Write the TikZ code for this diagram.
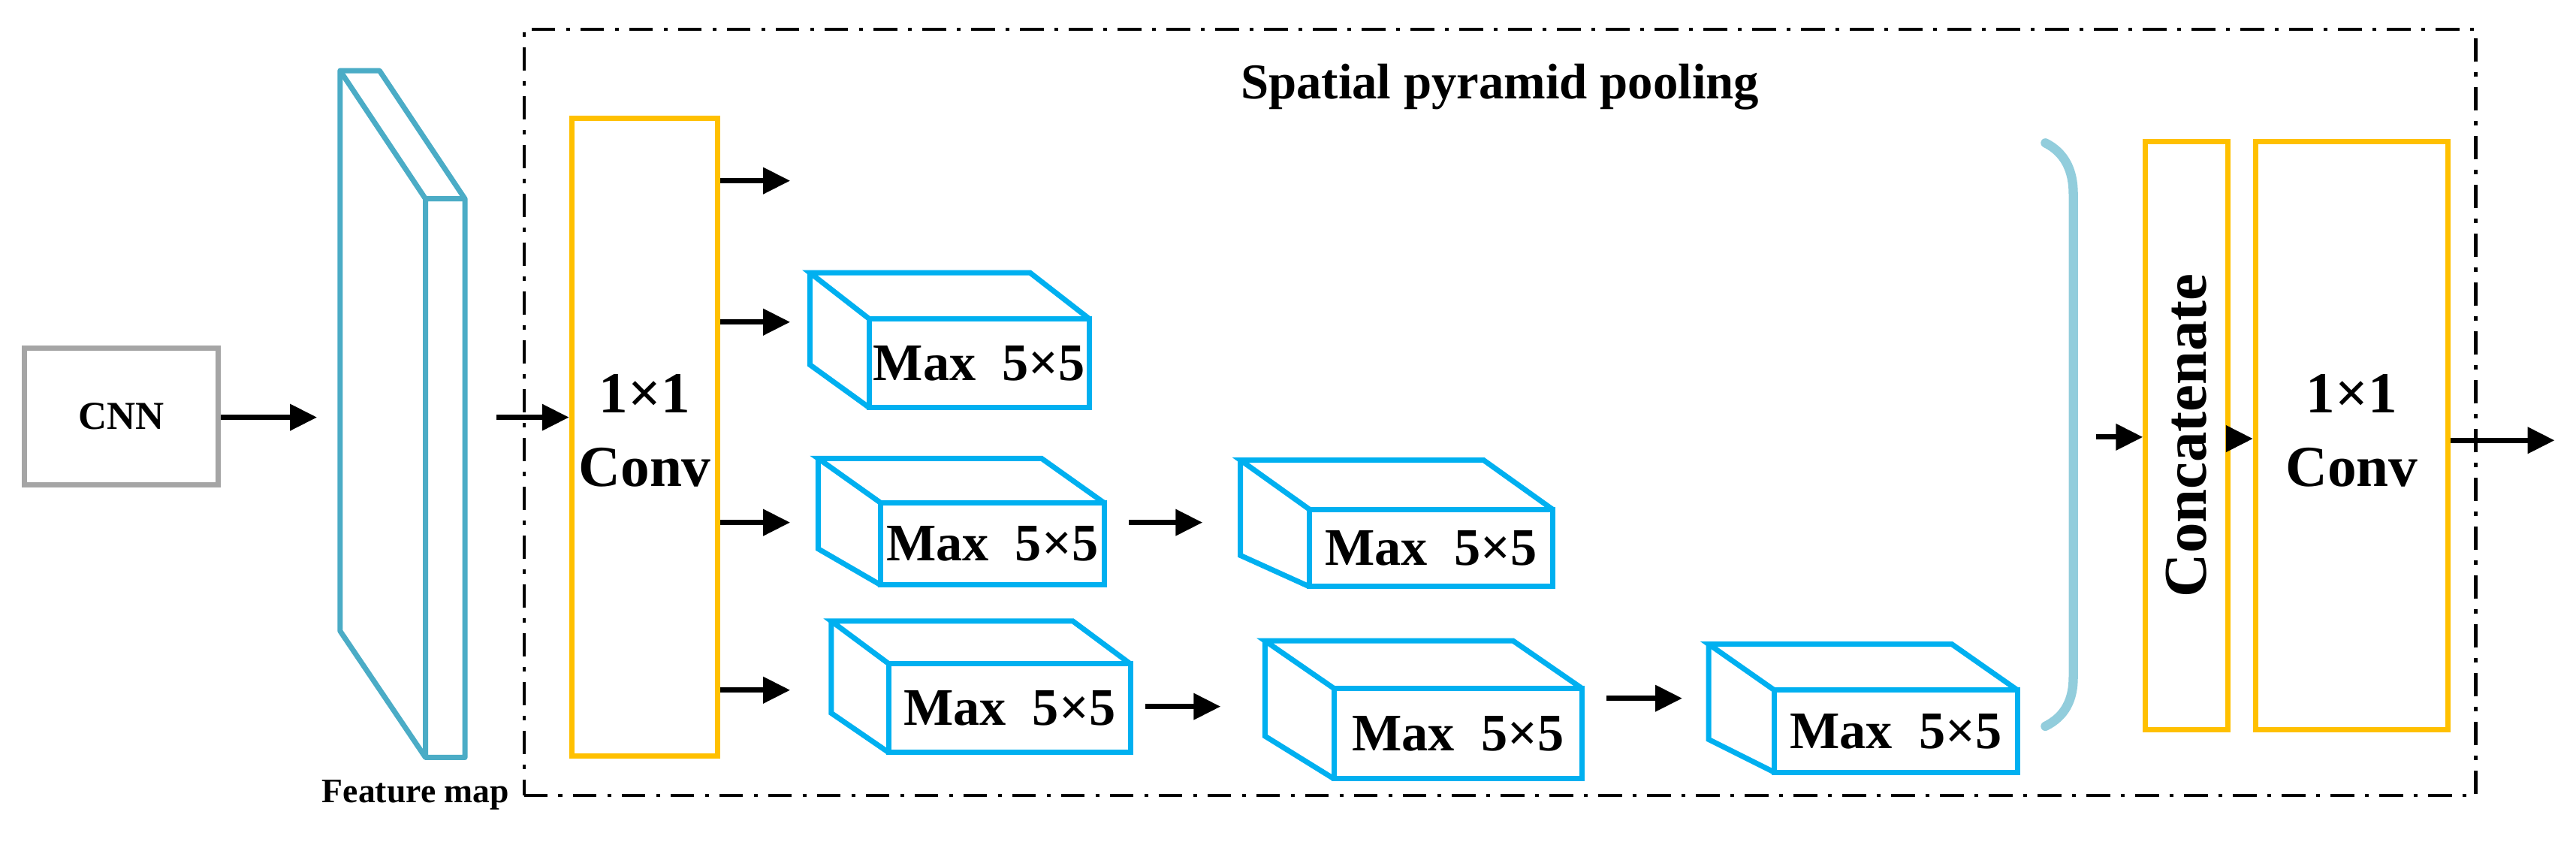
\documentclass[tikz,border=0pt]{standalone}
\usepackage{fontspec}
\setmainfont{Liberation Serif}
\usetikzlibrary{arrows.meta,fit}
\definecolor{cub}{RGB}{0,176,240}
\definecolor{fmc}{RGB}{75,172,198}
\definecolor{yel}{RGB}{255,192,0}
\definecolor{gr}{RGB}{165,165,165}
\definecolor{brk}{RGB}{146,205,220}
\tikzset{
  arr/.style={line width=2pt,-{Triangle[length=0.36cm,width=0.34cm]}},
  box/.style={draw,line width=2pt,inner sep=0pt},
  lbl/.style={font=\bfseries\fontsize{20}{24}\selectfont},
}
\newcommand\cuboid[8]{%
  \node[box,cub,fit={(#4,#5)(#6,#7)}] (#1) {};
  \node[lbl,text=black] at (#1.center) {Max~~5×5};
  \pgfmathsetmacro\bx{#6-(#4-#2)}
  \draw[cub,line width=2pt,line join=miter] (#4,#5) -- (#2,#3) -- (\bx,#3) -- (#6,#5);
  \draw[cub,line width=2pt] (#2,#3) -- (#2,#8) -- (#4,#7);
}
\begin{document}
\begin{tikzpicture}[x=0.021875cm,y=-0.021875cm]
\useasboundingbox (0,0) rectangle (1568,512);
% dashed frame
\node[draw,line width=1.2pt,dash pattern=on 9pt off 4pt on 1.5pt off 4pt,inner sep=0pt,fit={(319,18)(1507,484)}] (spp) {};
\node[font=\bfseries\fontsize{19}{22}\selectfont] (title) at (913,53) {Spatial pyramid pooling};
% CNN
\node[box,gr,fit={(15,212)(133,295)}] (cnn) {};
\node[font=\bfseries\fontsize{15}{18}\selectfont] at (cnn.center) {CNN};
% feature map
\draw[fmc,line width=2pt,line join=round] (207,43) -- (231,43) -- (283,121) -- (283,461) -- (259,461) -- (207,384) -- cycle;
\draw[fmc,line width=2pt] (207,43) -- (259,121) -- (259,461) (259,121) -- (283,121);
\coordinate (fmin) at (193,254);
\coordinate (fmout) at (302,254);
\node[font=\bfseries\fontsize{13}{15}\selectfont] (fmlab) at (253,484) {Feature map};
\draw[arr] (cnn.east |- fmin) -- (fmin);
% conv1
\node[box,yel,fit={(348,72)(437,460)}] (conv1) {};
\node[font=\bfseries\fontsize{22}{28}\selectfont,align=center] at (392.5,262) {1×1\\Conv};
\draw[arr] (fmout) -- (conv1.west |- fmout);
\coordinate (o1) at (481,110);
\coordinate (o2) at (481,196);
\coordinate (o3) at (481,318);
\coordinate (o4) at (481,420);
\foreach \o in {o1,o2,o3,o4} \draw[arr] (conv1.east |- \o) -- (\o);
% cuboids
\cuboid{m1}{493}{166}{529}{194}{663}{248}{222}
\cuboid{m2}{498}{279}{536}{306}{672}{356}{334}
\cuboid{m3}{506}{378}{541}{404}{688}{458}{434}
\cuboid{m4}{755}{280}{797}{310}{945}{357}{338}
\cuboid{m5}{770}{390}{812}{419}{963}{474}{448}
\cuboid{m6}{1040}{392}{1080}{420}{1228}{470}{450}
\coordinate (a1) at (687,318); \coordinate (a2) at (732,318);
\coordinate (b1) at (697,430); \coordinate (b2) at (743,430);
\coordinate (c1) at (978,425); \coordinate (c2) at (1024,425);
\draw[arr] (a1) -- (a2);
\draw[arr] (b1) -- (b2);
\draw[arr] (c1) -- (c2);
% bracket
\draw[brk,line width=3.5pt,line cap=round] (1245,87) .. controls (1257,93) and (1262,104) .. (1262,118) -- (1262,412) .. controls (1262,426) and (1257,436) .. (1245,442);
% concatenate
\node[box,yel,fit={(1306,86)(1356,444)}] (cat) {};
\node[font=\bfseries\fontsize{23}{26}\selectfont,rotate=90] at (cat.center) {Concatenate};
\node[box,yel,fit={(1373,86)(1490,444)}] (conv2) {};
\node[font=\bfseries\fontsize{22}{28}\selectfont,align=center] at (1431.5,262) {1×1\\Conv};
\coordinate (bk) at (1276,266);
\coordinate (out) at (1555,268);
\draw[arr] (bk) -- (cat.west |- bk);
\draw[arr] (cat.east |- 0,267) -- (conv2.west |- 0,267);
\draw[arr] (conv2.east |- out) -- (out);
\end{tikzpicture}
\end{document}
